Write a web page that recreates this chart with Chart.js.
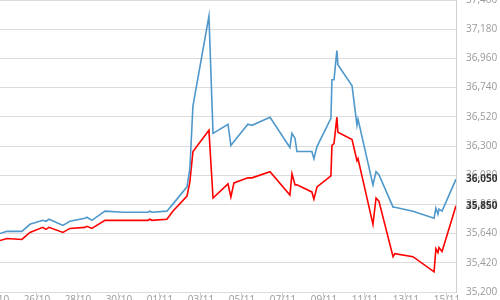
<!DOCTYPE html>
<html>
<head>
<meta charset="utf-8">
<script src="https://cdn.jsdelivr.net/npm/chart.js@4.4.1/dist/chart.umd.min.js"></script>
<style>
  html, body { margin: 0; padding: 0; background: #fff; overflow: hidden; }
  #wrap { width: 500px; height: 310px; }
</style>
</head>
<body>
<div id="wrap"><canvas id="priceChart"></canvas></div>
<script>
// days counted from 24/10 00:00
const days = [0.20, 0.54, 1.27, 1.66, 2.29, 2.44, 2.59, 3.27, 3.61, 4.34, 4.44, 4.68, 5.32, 6.20, 7.41, 7.51, 7.61,
  8.34, 8.63, 9.32, 9.46, 9.61, 10.39, 10.59, 11.32, 11.46, 11.61, 12.29, 12.49, 13.37, 14.34, 14.44, 14.59, 14.68,
  15.41, 15.51, 15.66, 16.34, 16.39, 16.49, 16.63, 16.68, 17.37, 17.61, 17.66, 18.39, 18.54, 18.68, 19.37, 19.46,
  20.34, 21.37, 21.46, 21.56, 21.61, 21.76, 22.44];

const bluePrices = [35641, 35657, 35657, 35710, 35740, 35733, 35748, 35702, 35733, 35756, 35763, 35740, 35809, 35801, 35801, 35809, 35801,
  35809, 35862, 35992, 36130, 36601, 37278, 36395, 36464, 36304, 36334, 36464, 36456, 36517, 36289, 36395, 36357, 36258,
  36258, 36205, 36296, 36509, 36799, 36799, 37019, 36913, 36753, 36456, 36502, 36007, 36106, 36083, 35839, 35839,
  35809, 35756, 35832, 35786, 35824, 35809, 36050];

const redPrices = [35588, 35603, 35596, 35649, 35687, 35672, 35687, 35649, 35679, 35687, 35695, 35679, 35740, 35740, 35740, 35748, 35740,
  35748, 35809, 35923, 36030, 36258, 36418, 35908, 36015, 35916, 36022, 36060, 36060, 36106, 35931, 36091, 36007, 36007,
  35954, 35900, 35992, 36075, 36304, 36319, 36517, 36403, 36349, 36190, 36205, 35710, 35908, 35885, 35466, 35489,
  35466, 35352, 35527, 35497, 35535, 35505, 35850];

const dateLabels = ['24/10', '26/10', '28/10', '30/10', '01/11', '03/11', '05/11', '07/11', '09/11', '11/11', '13/11', '15/11'];

const fmt = v => Number(v).toLocaleString('en-US');

// last price of each series shown in dark on the axis
const lastPricePlugin = {
  id: 'lastPrice',
  afterDraw(chart) {
    const ctx = chart.ctx;
    const y = chart.scales.y;
    ctx.save();
    ctx.font = 'bold 10px "Open Sans"';
    ctx.fillStyle = '#333';
    ctx.textBaseline = 'middle';
    ctx.textAlign = 'left';
    chart.data.datasets.forEach(ds => {
      const last = ds.data[ds.data.length - 1].y;
      ctx.fillText(fmt(last), chart.chartArea.right + 10, y.getPixelForValue(last));
    });
    ctx.restore();
  }
};

const ctx = document.getElementById('priceChart').getContext('2d');
new Chart(ctx, {
  type: 'line',
  data: {
    datasets: [{
      data: days.map((d, i) => ({ x: d, y: bluePrices[i] })),
      borderColor: '#4f98cb',
      borderWidth: 1.6,
      pointRadius: 0,
      tension: 0
    }, {
      data: days.map((d, i) => ({ x: d, y: redPrices[i] })),
      borderColor: '#ff0000',
      borderWidth: 1.6,
      pointRadius: 0,
      tension: 0
    }]
  },
  options: {
    responsive: true,
    maintainAspectRatio: false,
    animation: false,
    layout: { padding: 0 },
    plugins: { legend: { display: false }, tooltip: { enabled: false } },
    scales: {
      x: {
        type: 'linear',
        min: 0.2,
        max: 22.44,
        afterBuildTicks: s => { s.ticks = dateLabels.map((t, i) => ({ value: i * 2 })); },
        afterFit: s => { s.height = 18; s.paddingLeft = 0; s.paddingRight = 0; },
        grid: { drawOnChartArea: false, drawTicks: true, tickLength: 5, color: '#cfcfcf' },
        border: { display: false },
        ticks: {
          autoSkip: false,
          maxRotation: 0,
          padding: -3,
          color: '#999',
          font: { family: '"Open Sans"', size: 10 },
          callback: v => dateLabels[Math.round(v / 2)]
        }
      },
      y: {
        position: 'right',
        min: 35200,
        max: 37400,
        afterBuildTicks: s => {
          const t = [];
          for (let v = 35200; v <= 37400; v += 220) t.push({ value: v });
          s.ticks = t;
        },
        afterFit: s => { s.width = 44; s.paddingTop = 0; s.paddingBottom = 0; },
        grid: { color: '#dcdcdc', drawTicks: false },
        border: { display: true, color: '#d0d0d0' },
        ticks: {
          padding: 10,
          color: '#999',
          font: { family: '"Open Sans"', size: 10 },
          callback: v => fmt(v)
        }
      }
    }
  },
  plugins: [lastPricePlugin]
});
</script>
</body>
</html>
